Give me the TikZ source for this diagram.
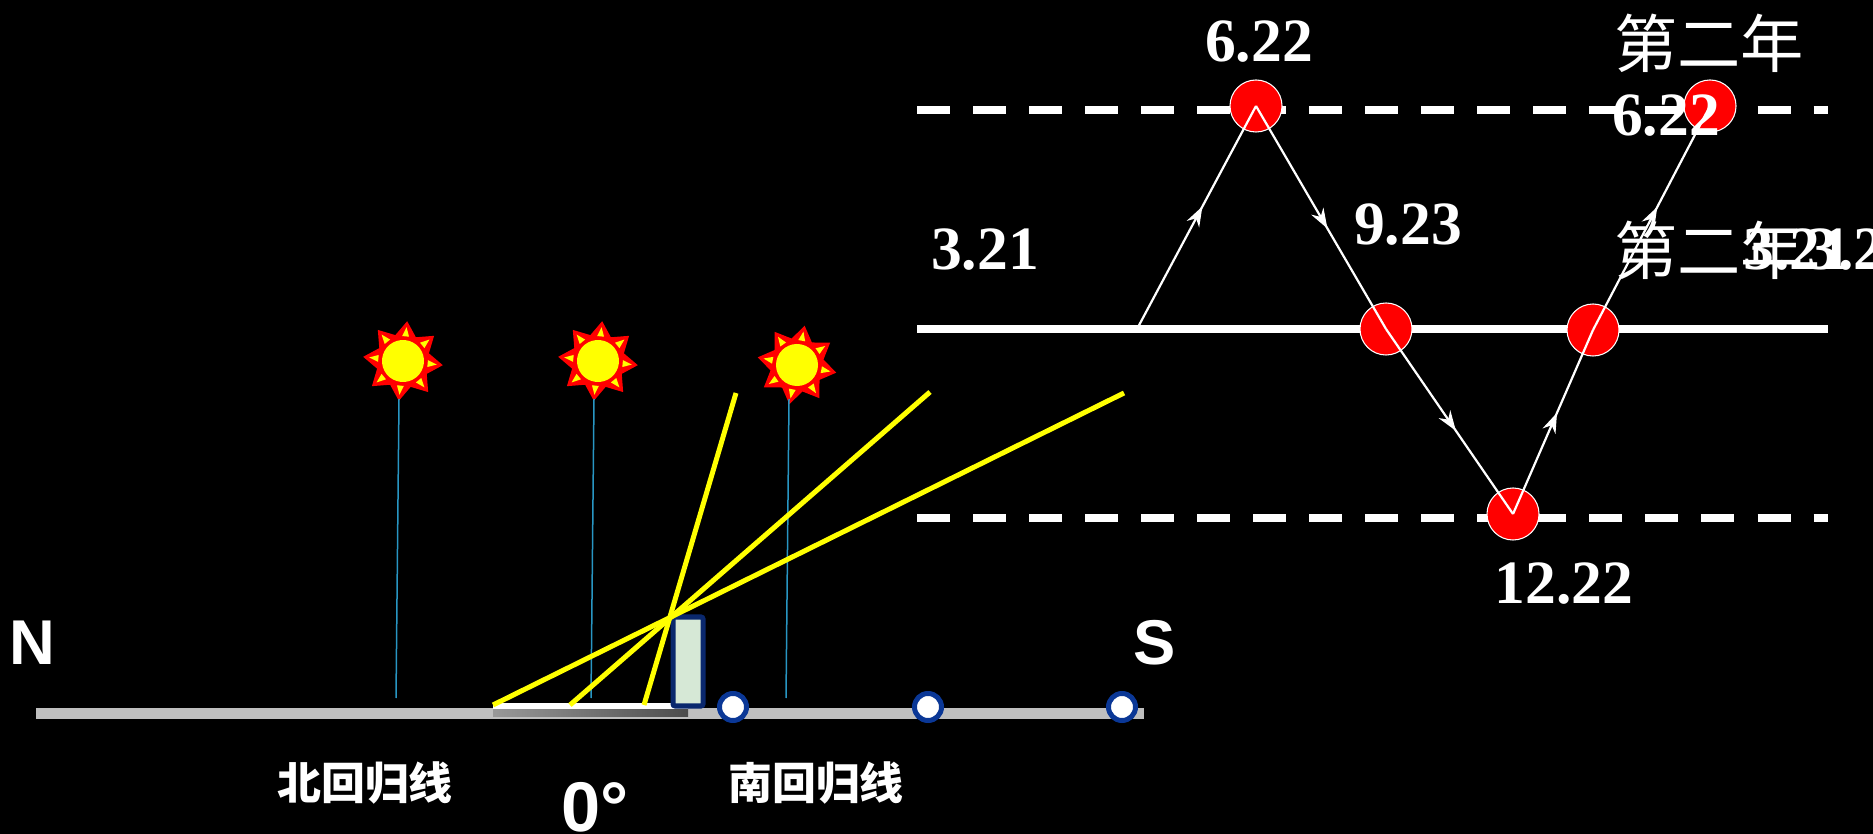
\documentclass[tikz,border=0pt]{standalone}
\usepackage{fontspec}
\setmainfont{Liberation Serif}
\setsansfont{Liberation Sans}
\newfontfamily\cjk{Noto Sans CJK SC}
\usetikzlibrary{arrows.meta,decorations.markings}

\definecolor{sunred}{RGB}{255,0,0}
\definecolor{sunyellow}{RGB}{255,255,0}
\definecolor{groundgray}{RGB}{191,191,191}
\definecolor{poleblue}{RGB}{40,150,195}
\definecolor{ringblue}{RGB}{10,55,150}
\definecolor{gnomonblue}{RGB}{10,40,110}
\definecolor{gnomongreen}{RGB}{214,232,214}

% sun at (x,y), #3 = turn of the rays
\newcommand{\sunat}[3]{%
  \begin{scope}[shift={(#1,#2)}, rotate=#3]
    \fill[sunred] (0:40) \foreach \a in {0,45,...,315} {-- (\a:40) -- (\a+22.5:27)} -- cycle;
    \foreach \a in {0,45,...,315}
      \fill[sunyellow] (\a:34) -- (\a+8:25) -- (\a-8:25) -- cycle;
    \fill[sunyellow] (0,0) circle (21);
  \end{scope}}

\begin{document}
\begin{tikzpicture}
  [x=0.01cm, y=-0.01cm,
   ray/.style = {sunyellow, line width=0.05cm},
   pole/.style = {poleblue, line width=0.015cm},
   tropic/.style = {circle, draw=ringblue, fill=white, line width=0.05cm,
                    minimum size=0.27cm, inner sep=0pt},
   datept/.style = {circle, draw=white, fill=sunred, line width=0.3pt,
                    minimum size=0.52cm, inner sep=0pt},
   date/.style = {font=\bfseries\fontsize{17.5}{17.5}\selectfont, text=white, inner sep=0pt},
   year/.style = {font=\cjk\fontsize{18}{18}\selectfont, text=white, inner sep=0pt},
   place/.style = {font=\cjk\bfseries\fontsize{12.5}{12.5}\selectfont, text=white, inner sep=0pt},
   compass/.style = {font=\sffamily\bfseries\fontsize{18}{18}\selectfont, text=white, inner sep=0pt},
   track/.style = {white, line width=0.022cm, postaction={decorate},
                   decoration={markings, mark=at position 0.55 with
                     {\arrow{Stealth[length=0.2cm,width=0.14cm]}}}},
   rowline/.style = {white, line width=0.075cm},
   dashrow/.style = {rowline, dash pattern=on 0.33cm off 0.23cm}]
  \useasboundingbox (0,0) rectangle (1873,834);
  \fill[black] (0,0) rectangle (1873,834);

  % ground, shadow and gnomon
  \fill[groundgray] (36,708) rectangle (1144,719);
  \shade[left color=groundgray!80!black, right color=groundgray!40!black] (493,709) rectangle (688,716);
  \fill[white] (493,703) rectangle (688,709);
  \draw[draw=gnomonblue, fill=gnomongreen, line width=0.05cm, rounded corners=0.02cm]
    (673,617) rectangle (703,706);

  % suns and their zenith lines
  \sunat{403}{361}{84}
  \sunat{598}{361}{84}
  \sunat{797}{365}{79}
  \draw[pole] (399,399) -- (396,698);
  \draw[pole] (594,399) -- (591,698);
  \draw[pole] (789,399) -- (786,698);

  % rays past the top of the gnomon
  \coordinate (foot1) at (493,705);
  \coordinate (foot2) at (570,705);
  \coordinate (foot3) at (644,705);
  \coordinate (far1) at (1124,393);
  \coordinate (far2) at (930,392);
  \coordinate (far3) at (736,393);
  \draw[ray] (foot1) -- (far1);
  \draw[ray] (foot2) -- (far2);
  \draw[ray] (foot3) -- (far3);

  \node[tropic] (t1) at (733,707) {};
  \node[tropic] (t2) at (928,707) {};
  \node[tropic] (t3) at (1122,707) {};

  \node[compass] (north) at (32,643) {N};
  \node[compass] (south) at (1155,643) {S};
  \node[place] (cancer) at (365,783) {北回归线};
  \node[place] (capri) at (816,783) {南回归线};
  \node[compass, font=\sffamily\bfseries\fontsize{20}{20}\selectfont, anchor=north]
    (equator) at (595,782) {0°};

  % the sun's yearly path between the tropics
  \draw[dashrow] (917,110) -- (1828,110);
  \draw[rowline] (917,329) -- (1828,329);
  \draw[dashrow] (917,518) -- (1828,518);

  \node[datept] (jun) at (1256,106) {};
  \node[datept] (sep) at (1386,329) {};
  \node[datept] (mar2) at (1593,330) {};
  \node[datept] (dec) at (1513,514) {};
  \node[datept] (jun2) at (1710,106) {};
  \coordinate (mar) at (1137,329);

  \draw[track] (mar) -- (jun.center);
  \draw[track] (jun.center) -- (sep.center);
  \draw[track] (sep.center) -- (dec.center);
  \draw[track] (dec.center) -- (mar2.center);
  \draw[track] (mar2.center) -- (jun2.center);

  \node[date] (l1) at (1259,42) {6.22};
  \node[date] (l2) at (985,250) {3.21};
  \node[date] (l3) at (1408,225) {9.23};
  \node[date] (l4) at (1564,584) {12.22};
  \node[year] (y1) at (1709,43) {第二年};
  \node[date] (l5) at (1666,116) {6.22};
  \node[year] (y2) at (1709,250) {第二年};
  \node[date, anchor=west] (l6) at (1743,250) {3.21};
  \node[date, anchor=west] (l7) at (1807,250) {3.21};
\end{tikzpicture}
\end{document}
